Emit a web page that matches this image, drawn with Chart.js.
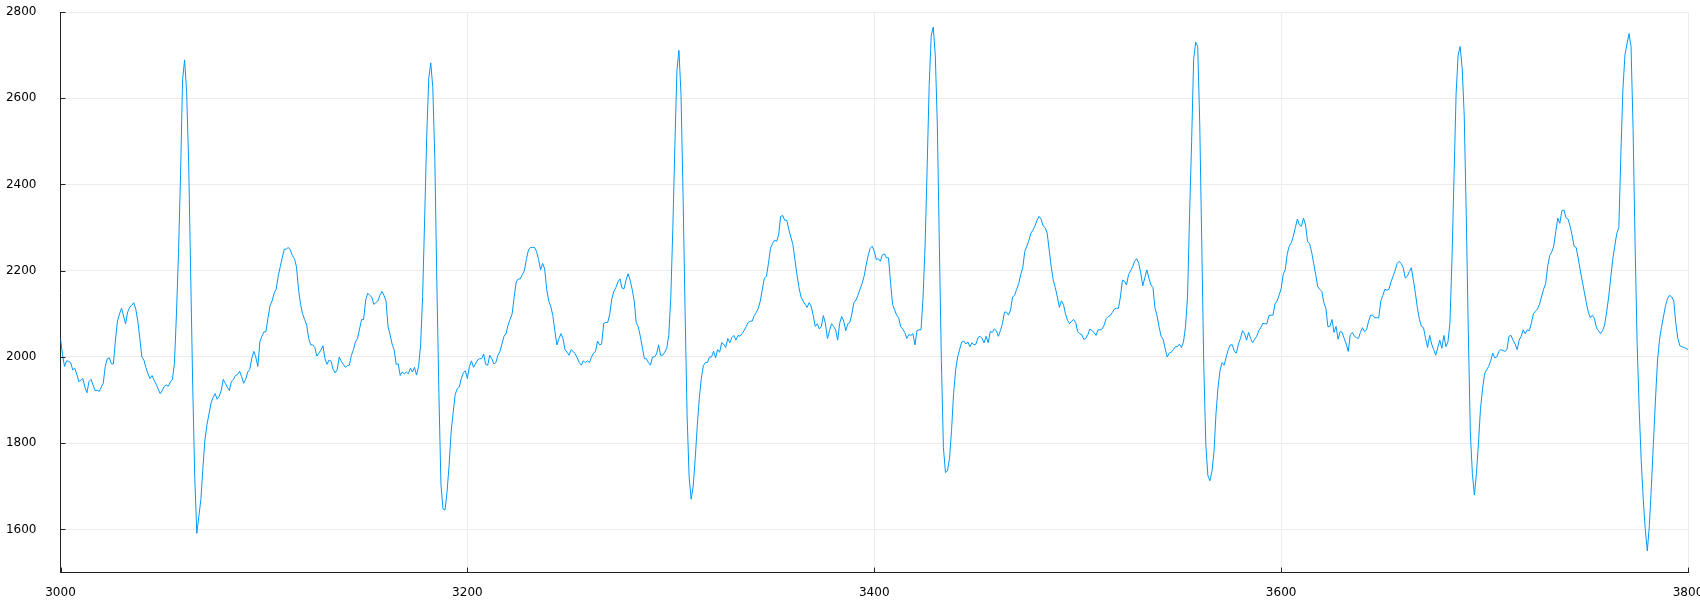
<!DOCTYPE html>
<html>
<head>
<meta charset="utf-8">
<script src="https://cdn.jsdelivr.net/npm/chart.js@4"></script>
<style>
  html, body { margin: 0; padding: 0; background: #fff; overflow: hidden; }
  #wrap { position: relative; width: 1700px; height: 600px; }
</style>
</head>
<body>
<div id="wrap"><canvas id="grafico"></canvas></div>
<script>
// Amostras, uma por unidade de x, a partir de 3000
const inicioX = 3000;

const trecho3000 = [
  2043, 2005, 1978, 1991, 1990, 1987, 1970, 1974, 1960, 1943,
  1946, 1950, 1930, 1917, 1943, 1948, 1935, 1922, 1923, 1920,
  1930, 1939, 1978, 1996, 1998, 1984, 1984, 2039, 2083, 2100,
  2113, 2095, 2077, 2104, 2115, 2120, 2126, 2111, 2083, 2043,
  2000, 1993, 1975, 1961, 1950, 1957, 1946, 1937, 1926, 1915,
  1922, 1932, 1935, 1932, 1942, 1948, 1985, 2100, 2240, 2420,
  2643, 2689, 2615, 2450, 2190, 1930, 1720, 1591, 1630, 1670,
  1743, 1809, 1843, 1868, 1893, 1906, 1915, 1902, 1909, 1922,
  1948, 1939, 1930, 1922, 1943, 1948, 1957, 1959, 1967, 1955,
  1939, 1948, 1965, 1971, 1996, 2013, 2000, 1978, 2035, 2048
];
const trecho3100 = [
  2058, 2059, 2091, 2119, 2130, 2148, 2157, 2187, 2209, 2230,
  2250, 2250, 2254, 2248, 2235, 2228, 2209, 2157, 2122, 2100,
  2087, 2074, 2043, 2028, 2028, 2022, 2002, 2009, 2016, 2026,
  1996, 1983, 1993, 1990, 1971, 1963, 1970, 2000, 1990, 1983,
  1976, 1980, 1981, 2004, 2017, 2035, 2043, 2065, 2087, 2087,
  2132, 2148, 2143, 2139, 2122, 2126, 2130, 2143, 2152, 2143,
  2130, 2070, 2052, 2030, 2017, 1983, 1984, 1957, 1965, 1961,
  1965, 1961, 1974, 1965, 1976, 1958, 1978, 2026, 2140, 2320,
  2510, 2645, 2682, 2625, 2460, 2170, 1915, 1705, 1648, 1645,
  1687, 1748, 1826, 1870, 1913, 1926, 1930, 1950, 1963, 1968
];
const trecho3200 = [
  1950, 1978, 1991, 1976, 1984, 1993, 1996, 1996, 2007, 1983,
  1981, 2004, 1996, 1984, 1987, 2004, 2013, 2030, 2048, 2054,
  2074, 2087, 2100, 2139, 2174, 2181, 2181, 2191, 2200, 2226,
  2248, 2254, 2254, 2254, 2245, 2226, 2202, 2217, 2204, 2157,
  2130, 2117, 2096, 2061, 2028, 2043, 2054, 2043, 2017, 2011,
  2004, 2017, 2013, 2007, 1998, 1987, 1981, 1991, 1987, 1991,
  1987, 2000, 2009, 2013, 2037, 2028, 2030, 2078, 2080, 2080,
  2100, 2135, 2152, 2161, 2174, 2181, 2160, 2158, 2178, 2193,
  2178, 2157, 2130, 2080, 2070, 2048, 2022, 1996, 1996, 1987,
  1981, 2000, 2000, 2007, 2028, 2004, 2004, 2011, 2020, 2050
];
const trecho3300 = [
  2140, 2300, 2490, 2665, 2711, 2610, 2380, 2110, 1865, 1722,
  1670, 1700, 1765, 1840, 1904, 1950, 1980, 1987, 1987, 2000,
  2000, 2013, 1998, 2017, 2011, 2033, 2030, 2022, 2043, 2033,
  2045, 2050, 2039, 2050, 2048, 2054, 2061, 2070, 2080, 2083,
  2083, 2096, 2103, 2113, 2130, 2157, 2183, 2187, 2217, 2252,
  2263, 2271, 2268, 2283, 2326, 2328, 2317, 2317, 2296, 2278,
  2261, 2226, 2191, 2161, 2139, 2130, 2122, 2115, 2126, 2117,
  2096, 2071, 2077, 2065, 2071, 2096, 2077, 2043, 2061, 2077,
  2071, 2063, 2039, 2078, 2094, 2083, 2061, 2077, 2080, 2100,
  2126, 2132, 2143, 2157, 2170, 2187, 2213, 2235, 2252, 2257
];
const trecho3400 = [
  2245, 2226, 2228, 2222, 2237, 2239, 2230, 2230, 2174, 2122,
  2109, 2097, 2091, 2070, 2065, 2057, 2043, 2052, 2050, 2054,
  2028, 2061, 2063, 2063, 2140, 2260, 2440, 2630, 2745, 2765,
  2700, 2540, 2260, 1990, 1790, 1732, 1736, 1765, 1830, 1915,
  1970, 2000, 2018, 2035, 2037, 2030, 2035, 2024, 2033, 2028,
  2030, 2045, 2048, 2043, 2033, 2048, 2033, 2059, 2057, 2065,
  2061, 2048, 2061, 2077, 2104, 2104, 2097, 2109, 2139, 2143,
  2157, 2170, 2191, 2207, 2245, 2257, 2270, 2287, 2294, 2304,
  2317, 2326, 2320, 2304, 2300, 2287, 2248, 2209, 2178, 2161,
  2139, 2115, 2130, 2122, 2100, 2085, 2077, 2083, 2087, 2080
];
const trecho3500 = [
  2059, 2054, 2052, 2041, 2043, 2052, 2065, 2061, 2057, 2050,
  2063, 2063, 2065, 2074, 2089, 2094, 2096, 2103, 2111, 2113,
  2113, 2139, 2178, 2176, 2167, 2191, 2200, 2209, 2222, 2228,
  2217, 2195, 2165, 2184, 2202, 2183, 2167, 2161, 2113, 2096,
  2070, 2048, 2041, 2019, 2000, 2009, 2011, 2017, 2024, 2024,
  2030, 2022, 2035, 2070, 2140, 2330, 2500, 2690, 2730, 2720,
  2540, 2260, 1975, 1795, 1725, 1713, 1735, 1780, 1870, 1930,
  1970, 1987, 1981, 2000, 2017, 2028, 2028, 2013, 2009, 2030,
  2043, 2061, 2054, 2039, 2057, 2043, 2033, 2041, 2048, 2061,
  2068, 2078, 2077, 2077, 2096, 2097, 2097, 2123, 2130, 2143
];
const trecho3600 = [
  2158, 2191, 2202, 2239, 2257, 2265, 2280, 2300, 2320, 2306,
  2303, 2322, 2306, 2268, 2263, 2243, 2217, 2191, 2163, 2157,
  2152, 2126, 2113, 2070, 2071, 2087, 2057, 2071, 2041, 2059,
  2057, 2043, 2030, 2013, 2052, 2057, 2048, 2045, 2043, 2057,
  2068, 2059, 2063, 2083, 2097, 2097, 2091, 2091, 2091, 2130,
  2143, 2157, 2155, 2157, 2174, 2187, 2200, 2217, 2222, 2217,
  2207, 2183, 2187, 2198, 2207, 2178, 2148, 2113, 2087, 2071,
  2068, 2043, 2022, 2050, 2030, 2017, 2004, 2022, 2039, 2020,
  2050, 2024, 2035, 2080, 2230, 2420, 2610, 2700, 2720, 2670,
  2560, 2330, 2060, 1826, 1730, 1680, 1730, 1800, 1880, 1925
];
const trecho3700 = [
  1961, 1970, 1978, 1991, 2009, 1998, 2000, 2013, 2017, 2015,
  2013, 2017, 2048, 2050, 2039, 2030, 2017, 2039, 2048, 2063,
  2054, 2063, 2061, 2078, 2100, 2106, 2111, 2122, 2139, 2157,
  2170, 2209, 2235, 2243, 2257, 2291, 2322, 2310, 2339, 2341,
  2323, 2320, 2304, 2283, 2257, 2254, 2230, 2202, 2176, 2152,
  2126, 2104, 2091, 2097, 2089, 2068, 2061, 2054, 2061, 2074,
  2104, 2139, 2183, 2226, 2257, 2287, 2300, 2470, 2620, 2700,
  2726, 2750, 2720, 2530, 2260, 2030, 1880, 1760, 1670, 1600,
  1550, 1609, 1700, 1800, 1900, 1991, 2040, 2070, 2095, 2120,
  2136, 2143, 2139, 2130, 2078, 2043, 2026, 2024, 2022, 2020,
  2017
];

// Marcas dos eixos
const xTicks = [3000, 3200, 3400, 3600, 3800];
const yTicks = [1600, 1800, 2000, 2200, 2400, 2600, 2800];

const valores = [].concat(trecho3000, trecho3100, trecho3200, trecho3300,
  trecho3400, trecho3500, trecho3600, trecho3700);
const pontos = valores.map((v, i) => ({ x: inicioX + i, y: v }));

// Pequenos traços para dentro da área do gráfico, como no original
const marcasInternas = {
  id: "marcasInternas",
  afterDatasetsDraw(chart) {
    const { ctx, chartArea, scales } = chart;
    ctx.save();
    ctx.strokeStyle = "#222";
    ctx.lineWidth = 1;
    ctx.beginPath();
    scales.x.ticks.forEach(t => {
      const px = Math.round(scales.x.getPixelForValue(t.value)) + 0.5;
      ctx.moveTo(px, chartArea.bottom);
      ctx.lineTo(px, chartArea.bottom - 5);
    });
    scales.y.ticks.forEach(t => {
      const py = Math.round(scales.y.getPixelForValue(t.value)) + 0.5;
      ctx.moveTo(chartArea.left, py);
      ctx.lineTo(chartArea.left + 5, py);
    });
    ctx.stroke();
    ctx.restore();
  }
};

const fonte = { family: "'DejaVu Sans', sans-serif", size: 12 };

new Chart(document.getElementById("grafico"), {
  type: "line",
  data: {
    datasets: [{
      data: pontos,
      borderColor: "#009AFA",
      borderWidth: 1,
      pointRadius: 0,
      pointHoverRadius: 0,
      tension: 0,
      fill: false
    }]
  },
  options: {
    responsive: true,
    maintainAspectRatio: false,
    animation: false,
    devicePixelRatio: 1,
    layout: { autoPadding: false, padding: { left: 6, top: 12, right: 12, bottom: 0 } },
    plugins: { legend: { display: false }, tooltip: { enabled: false } },
    scales: {
      x: {
        type: "linear",
        min: 3000,
        max: 3800,
        afterBuildTicks: s => { s.ticks = xTicks.map(v => ({ value: v })); },
        // tamanho fixo do eixo para casar com o original
        afterFit: s => { s.height = 27.4; s.paddingLeft = 0; s.paddingRight = 0; },
        ticks: { color: "#000", font: fonte, padding: 13, maxRotation: 0,
                 callback: v => String(v) },
        grid: { color: "#ececec", drawTicks: false },
        border: { color: "#222", width: 1 }
      },
      y: {
        min: 1500,
        max: 2800,
        afterBuildTicks: s => { s.ticks = yTicks.map(v => ({ value: v })); },
        afterFit: s => { s.width = 54.5; s.paddingTop = 0; s.paddingBottom = 0; },
        ticks: { color: "#000", font: fonte, padding: 24,
                 callback: v => String(v) },
        grid: { color: "#ececec", drawTicks: false },
        border: { color: "#222", width: 1 }
      }
    }
  },
  plugins: [marcasInternas]
});
</script>
</body>
</html>
